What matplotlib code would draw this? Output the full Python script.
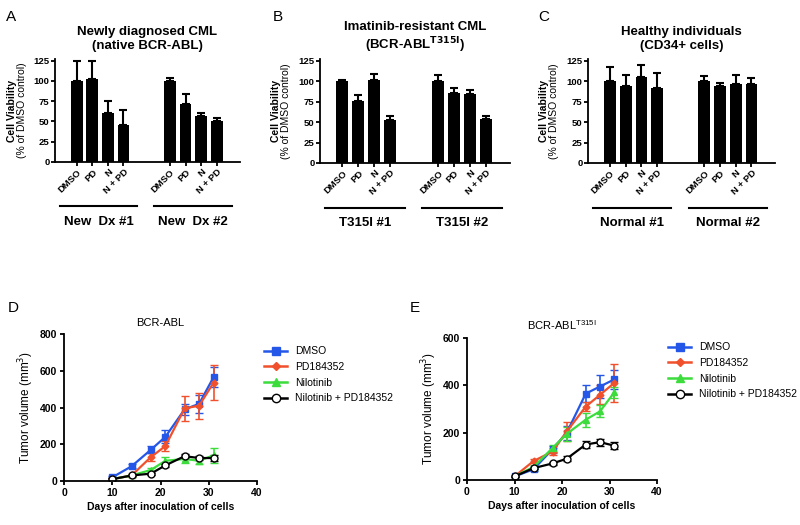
import numpy as np
import matplotlib
matplotlib.use("Agg")
import matplotlib.pyplot as plt
import matplotlib.transforms as mtransforms
from matplotlib.lines import Line2D

plt.rcParams['font.family'] = ['Liberation Sans', 'DejaVu Sans']

# --- bar panels (A, B, C) ---
bar_labels = ["DMSO", "PD", "N", "N + PD"]
groups_a = ["New  Dx #1", "New  Dx #2"]
groups_b = ["T315I #1", "T315I #2"]
groups_c = ["Normal #1", "Normal #2"]

a_vals = [100, 102, 60, 46, 100, 71, 57, 50]
a_errs = [25, 22, 15, 18, 3, 13, 4, 4]
b_vals = [100, 76, 101, 53, 100, 86, 84, 54]
b_errs = [1, 7, 8, 4, 8, 5, 5, 4]
c_vals = [100, 94, 105, 92, 100, 94, 97, 97]
c_errs = [17, 13, 15, 18, 6, 4, 10, 7]

# --- line panels (D, E) ---
days = [10, 14, 18, 21, 25, 28, 31]
series_names = ["DMSO", "PD184352", "Nilotinib", "Nilotinib + PD184352"]

d_dmso = [20, 80, 170, 240, 390, 420, 565]
d_dmso_err = [5, 10, 20, 35, 30, 50, 55]
d_pd = [10, 30, 130, 190, 395, 410, 535]
d_pd_err = [5, 10, 20, 25, 70, 70, 95]
d_nil = [10, 30, 60, 110, 120, 110, 140]
d_nil_err = [3, 10, 10, 20, 20, 20, 40]
d_combo = [10, 30, 40, 85, 135, 125, 125]
d_combo_err = [5, 5, 5, 10, 10, 10, 15]

e_dmso = [15, 45, 130, 200, 365, 395, 425]
e_dmso_err = [3, 8, 15, 30, 35, 50, 40]
e_pd = [15, 80, 120, 205, 310, 360, 410]
e_pd_err = [3, 10, 15, 40, 20, 40, 80]
e_nil = [15, 55, 135, 195, 255, 290, 370]
e_nil_err = [3, 8, 15, 30, 30, 25, 25]
e_combo = [15, 50, 70, 90, 150, 160, 145]
e_combo_err = [3, 5, 5, 10, 15, 15, 15]

W, H = 800, 525
fig = plt.figure(figsize=(8, 5.25), dpi=100)


def px_axes(x0, y0, x1, y1):
    return fig.add_axes([x0 / W, 1 - y1 / H, (x1 - x0) / W, (y1 - y0) / H])


def fig_text(x, y, s, **kw):
    fig.text(x / W, 1 - y / H, s, **kw)


pos = [0, 1, 2, 3, 6, 7, 8, 9]


def bar_panel(box, vals, errs, title, groups, letter, letter_xy, ylab_x):
    ax = px_axes(*box)
    ax.bar(pos, vals, width=0.75, color='black', zorder=2)
    ax.errorbar(pos, vals, yerr=[np.zeros(len(errs)), errs], fmt='none',
                ecolor='black', elinewidth=1.5, capsize=3, capthick=1.5, zorder=1)
    ax.set_xlim(-1.4, 10.5)
    ax.set_ylim(0, 127)
    ax.set_yticks([0, 25, 50, 75, 100, 125])
    ax.set_xticks(pos)
    ax.set_xticklabels(bar_labels * 2, rotation=45, ha='right',
                       rotation_mode='anchor', fontsize=6.8, fontweight='bold')
    for lab in ax.get_yticklabels():
        lab.set_fontweight('bold')
        lab.set_fontsize(6.8)
    for s in ['top', 'right']:
        ax.spines[s].set_visible(False)
    for s in ['left', 'bottom']:
        ax.spines[s].set_linewidth(1.3)
    ax.tick_params(width=1.3, length=3, pad=1)
    ax.set_title(title, fontsize=9.5, fontweight='bold', pad=7, linespacing=1.2)
    trans = mtransforms.blended_transform_factory(ax.transData, ax.transAxes)
    for g, (a, b) in zip(groups, [(-1.1, 3.9), (5.0, 10.0)]):
        ax.plot([a, b], [-0.43, -0.43], color='black', lw=1.5,
                transform=trans, clip_on=False)
        ax.text((a + b) / 2, -0.58, g, transform=trans, ha='center', va='center',
                fontsize=9.5, fontweight='bold')
    yc = (box[1] + box[3]) / 2
    fig_text(ylab_x, yc, "Cell Viability", rotation=90, ha='center', va='center',
             fontsize=7.5, fontweight='bold')
    fig_text(ylab_x + 10, yc, "(% of DMSO control)", rotation=90, ha='center',
             va='center', fontsize=7.5)
    fig_text(letter_xy[0], letter_xy[1], letter, fontsize=11, ha='left', va='center')
    return ax


bar_panel((55, 59, 240, 162), a_vals, a_errs,
          "Newly diagnosed CML\n(native BCR-ABL)", groups_a, "A", (6, 17), 12)
bar_panel((320, 59, 510, 163), b_vals, b_errs,
          "Imatinib-resistant CML\n" + r"(BCR-ABL$^{\mathbf{T315I}}$)", groups_b,
          "B", (273, 17), 276)
bar_panel((588, 59, 775, 163), c_vals, c_errs,
          "Healthy individuals\n(CD34+ cells)", groups_c, "C", (538, 17), 544)

colors = ['#2457E8', '#F0512C', '#3BDC3B', 'black']
markers = ['s', 'D', '^', 'o']


def line_panel(box, data, title, ymax, yticks, letter, letter_xy, legend_xy):
    ax = px_axes(*box)
    handles = []
    for (vals, errs), c, m, name in zip(data, colors, markers, series_names):
        mfc = 'white' if m == 'o' else c
        ms = 5 if m != 'D' else 3.5
        ax.errorbar(days, vals, yerr=errs, color=c, marker=m, ms=ms, mfc=mfc,
                    mec=c, lw=1.6, elinewidth=1.2, capsize=3)
        handles.append(Line2D([], [], color=c, marker=m, ms=ms + 1, mfc=mfc,
                              mec=c, lw=1.8, label=name))
    ax.set_xlim(0, 40)
    ax.set_ylim(0, ymax)
    ax.set_xticks([0, 10, 20, 30, 40])
    ax.set_yticks(yticks)
    for s in ['top', 'right']:
        ax.spines[s].set_visible(False)
    for s in ['left', 'bottom']:
        ax.spines[s].set_linewidth(1.3)
    ax.tick_params(width=1.3, length=3, labelsize=7.5, pad=2)
    for lab in ax.get_xticklabels() + ax.get_yticklabels():
        lab.set_fontweight('bold')
    ax.set_xlabel("Days after inoculation of cells", fontsize=7.5, fontweight='bold',
                  labelpad=3)
    ax.set_ylabel("Tumor volume (mm$^3$)", fontsize=8.5, labelpad=3)
    ax.set_title(title, fontsize=8, pad=6)
    fig.legend(handles=handles, loc='upper left',
               bbox_to_anchor=(legend_xy[0] / W, 1 - legend_xy[1] / H),
               frameon=False, fontsize=7.5, handlelength=2.2, labelspacing=0.55,
               borderaxespad=0)
    fig_text(letter_xy[0], letter_xy[1], letter, fontsize=11, ha='left', va='center')


line_panel((64, 334, 257, 481),
           [(d_dmso, d_dmso_err), (d_pd, d_pd_err), (d_nil, d_nil_err),
            (d_combo, d_combo_err)],
           "BCR-ABL", 800, [0, 200, 400, 600, 800], "D", (8, 308), (260, 342))
line_panel((467, 338, 657, 480),
           [(e_dmso, e_dmso_err), (e_pd, e_pd_err), (e_nil, e_nil_err),
            (e_combo, e_combo_err)],
           r"BCR-ABL$^{\mathregular{T315I}}$", 600, [0, 200, 400, 600], "E",
           (410, 308), (664, 338))

fig.savefig("out.png", dpi=100)
